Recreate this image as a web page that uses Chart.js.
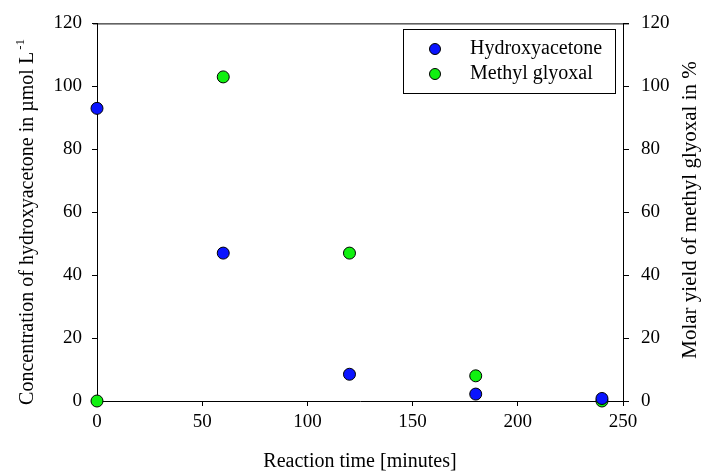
<!DOCTYPE html>
<html><head><meta charset="utf-8">
<script src="https://cdn.jsdelivr.net/npm/chart.js@4/dist/chart.umd.min.js"></script>
<style>html,body{margin:0;padding:0;background:#fff}#wrap{width:707px;height:474px}</style>
</head><body><div id="wrap"><canvas id="c" width="707" height="474"></canvas></div>
<script>
const times = [0, 60, 120, 180, 240];
const hydroxyacetone = [93, 47, 8.5, 2.2, 0.8];
const methylGlyoxal = [0, 103, 47, 8, 0];
const xTitle = 'Reaction time [minutes]';
const yLeftTitle = 'Concentration of hydroxyacetone in \u00B5mol L';
const yLeftSup = '-1';
const yRightTitle = 'Molar yield of methyl glyoxal in %';
const FONT = '"Liberation Serif", "Times New Roman", serif';
const FS = 19;
const TFS = 20;

const extras = {
  id: 'extras',
  afterDraw(chart) {
    const ctx = chart.ctx, a = chart.chartArea;
    ctx.save();
    ctx.strokeStyle = '#000'; ctx.lineWidth = 1;
    // top frame line
    ctx.beginPath(); ctx.moveTo(a.left - 4, a.top + 0.5); ctx.lineTo(a.right + 6, a.top + 0.5); ctx.stroke();
    ctx.fillStyle = '#000'; ctx.textBaseline = 'middle';
    // left axis title with superscript
    ctx.save();
    ctx.font = TFS + 'px ' + FONT;
    const w1 = ctx.measureText(yLeftTitle).width;
    ctx.font = '13px ' + FONT;
    const w2 = ctx.measureText(yLeftSup).width;
    const total = w1 + 2 + w2;
    ctx.translate(28, 222);
    ctx.rotate(-Math.PI / 2);
    ctx.textAlign = 'left';
    ctx.font = TFS + 'px ' + FONT;
    ctx.fillText(yLeftTitle, -total / 2, 0);
    ctx.font = '13px ' + FONT;
    ctx.fillText(yLeftSup, -total / 2 + w1 + 2, -7);
    ctx.restore();
    // right axis title (reads bottom to top)
    ctx.save();
    ctx.font = '21px ' + FONT; ctx.textAlign = 'center';
    ctx.translate(690, 210);
    ctx.rotate(-Math.PI / 2);
    ctx.fillText(yRightTitle, 0, 0);
    ctx.restore();
    // legend box
    const bx = 403.5, by = 29.5, bw = 212, bh = 64;
    ctx.fillStyle = '#fff'; ctx.fillRect(bx, by, bw, bh);
    ctx.strokeStyle = '#000'; ctx.strokeRect(bx, by, bw, bh);
    ctx.textAlign = 'left';
    ctx.font = '20px ' + FONT;
    chart.data.datasets.forEach((ds, i) => {
      const y = 49 + i * 25;
      ctx.beginPath(); ctx.arc(435, y, 5.5, 0, Math.PI * 2);
      ctx.fillStyle = ds.backgroundColor; ctx.fill(); ctx.strokeStyle = '#000'; ctx.stroke();
      ctx.fillStyle = '#000'; ctx.fillText(ds.label, 470, y);
    });
    ctx.restore();
  }
};

new Chart(document.getElementById('c'), {
  type: 'scatter',
  data: {
    datasets: [
      { label: 'Hydroxyacetone', data: times.map((t, i) => ({x: t, y: hydroxyacetone[i]})),
        backgroundColor: '#0a14ff', borderColor: '#000', borderWidth: 1, pointRadius: 6, yAxisID: 'y', clip: false },
      { label: 'Methyl glyoxal', data: times.map((t, i) => ({x: t, y: methylGlyoxal[i]})),
        backgroundColor: '#10f010', borderColor: '#000', borderWidth: 1, pointRadius: 6, yAxisID: 'y2', clip: false }
    ]
  },
  options: {
    responsive: false, animation: false,
    layout: { padding: { top: 22, left: 0, right: 0, bottom: 0 } },
    plugins: { legend: { display: false }, tooltip: { enabled: false } },
    scales: {
      x: {
        type: 'linear', min: 0, max: 250,
        ticks: { stepSize: 50, color: '#000', font: { family: FONT, size: FS }, padding: 5 },
        grid: { drawOnChartArea: false, drawTicks: true, tickLength: 5, color: '#000' },
        border: { display: true, color: '#000', width: 1 },
        title: { display: true, text: xTitle, color: '#000', font: { family: FONT, size: TFS }, padding: { top: 14, bottom: 0 } },
        afterFit(s) { s.height = 73; }
      },
      y: {
        position: 'left', min: 0, max: 120,
        ticks: { stepSize: 20, color: '#000', font: { family: FONT, size: FS }, padding: 10 },
        grid: { drawOnChartArea: false, drawTicks: true, tickLength: 5, color: '#000' },
        border: { display: true, color: '#000', width: 1 },
        title: { display: false },
        afterFit(s) { s.width = 97; }
      },
      y2: {
        position: 'right', min: 0, max: 120,
        ticks: { stepSize: 20, color: '#000', font: { family: FONT, size: FS }, padding: 12 },
        grid: { drawOnChartArea: false, drawTicks: true, tickLength: 6, color: '#000' },
        border: { display: true, color: '#000', width: 1 },
        title: { display: false },
        afterFit(s) { s.width = 84; }
      }
    }
  },
  plugins: [extras]
});
</script>
</body></html>
